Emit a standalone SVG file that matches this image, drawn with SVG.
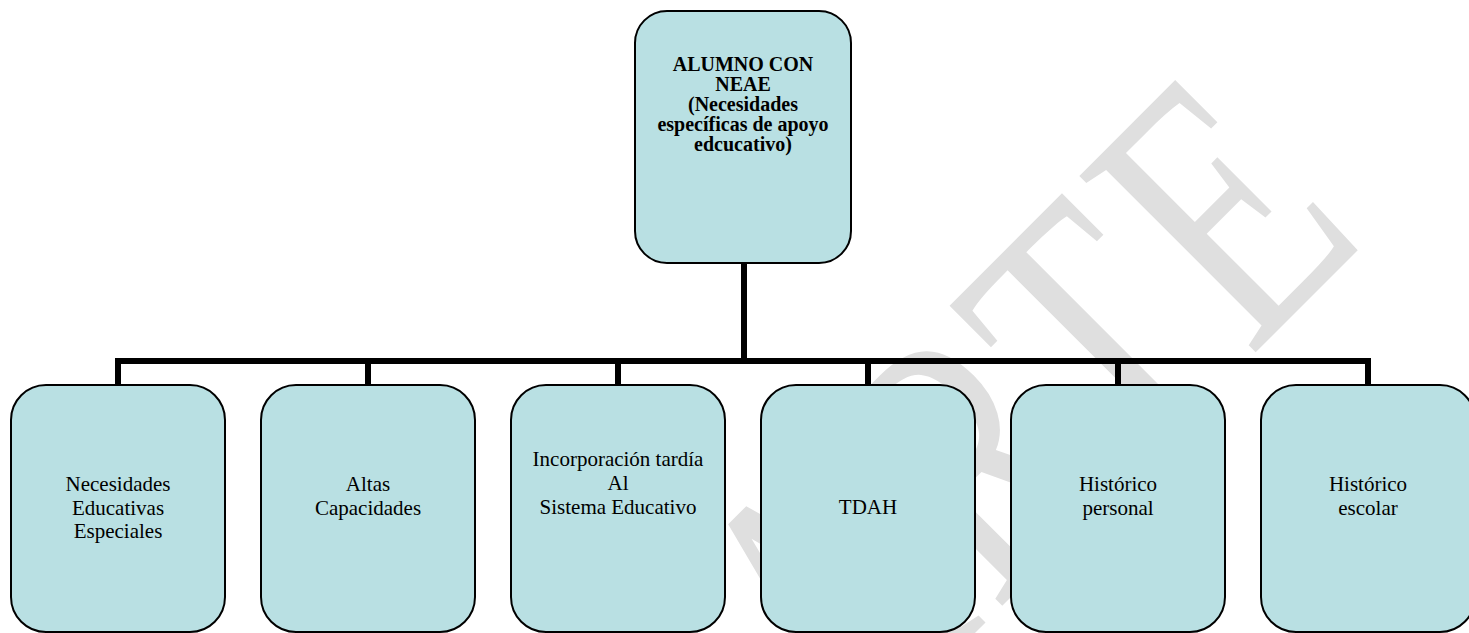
<svg xmlns="http://www.w3.org/2000/svg" width="1469" height="633" viewBox="0 0 1469 633">
<style>
.box{fill:#b9e0e3;stroke:#000;stroke-width:2}
.lbl{font-family:"Liberation Serif","Times New Roman",serif;font-size:21px;fill:#000;text-anchor:middle}
.ttl{font-family:"Liberation Serif","Times New Roman",serif;font-size:20px;font-weight:bold;fill:#000;text-anchor:middle}
.wm{font-family:"Liberation Serif","Times New Roman",serif;font-size:276px;fill:#dfdfdf;letter-spacing:12px}
.conn{stroke:#000;stroke-width:6;fill:none}
</style>
<rect width="1469" height="633" fill="#fff"/>
<g id="watermark">
<text class="wm" transform="translate(846,762) rotate(-45) scale(1,1.38)">ARTE</text>
</g>
<g id="connectors">
<path class="conn" d="M744,263 V361"/>
<path class="conn" d="M115,361 H1371"/>
<path class="conn" d="M118,358 V385 M368,361 V385 M618,361 V385 M868,361 V385 M1118,361 V385 M1368,358 V385"/>
</g>
<g id="root">
<rect class="box" x="635" y="11" width="216" height="252" rx="32"/>
<text class="ttl" x="743" y="71">ALUMNO CON</text>
<text class="ttl" x="743" y="91">NEAE</text>
<text class="ttl" x="743" y="111">(Necesidades</text>
<text class="ttl" x="743" y="131">específicas de apoyo</text>
<text class="ttl" x="743" y="151">edcucativo)</text>
</g>
<g id="n1">
<rect class="box" x="11" y="385" width="214" height="247" rx="35"/>
<text class="lbl" x="118" y="491">Necesidades</text>
<text class="lbl" x="118" y="514.5">Educativas</text>
<text class="lbl" x="118" y="538">Especiales</text>
</g>
<g id="n2">
<rect class="box" x="261" y="385" width="214" height="247" rx="35"/>
<text class="lbl" x="368" y="491">Altas</text>
<text class="lbl" x="368" y="514.5">Capacidades</text>
</g>
<g id="n3">
<rect class="box" x="511" y="385" width="214" height="247" rx="35"/>
<text class="lbl" x="618" y="466">Incorporación tardía</text>
<text class="lbl" x="618" y="490">Al</text>
<text class="lbl" x="618" y="514">Sistema Educativo</text>
</g>
<g id="n4">
<rect class="box" x="761" y="385" width="214" height="247" rx="35"/>
<text class="lbl" x="868" y="514">TDAH</text>
</g>
<g id="n5">
<rect class="box" x="1011" y="385" width="214" height="247" rx="35"/>
<text class="lbl" x="1118" y="491">Histórico</text>
<text class="lbl" x="1118" y="514.5">personal</text>
</g>
<g id="n6">
<rect class="box" x="1261" y="385" width="214" height="247" rx="35"/>
<text class="lbl" x="1368" y="491">Histórico</text>
<text class="lbl" x="1368" y="514.5">escolar</text>
</g>
</svg>
